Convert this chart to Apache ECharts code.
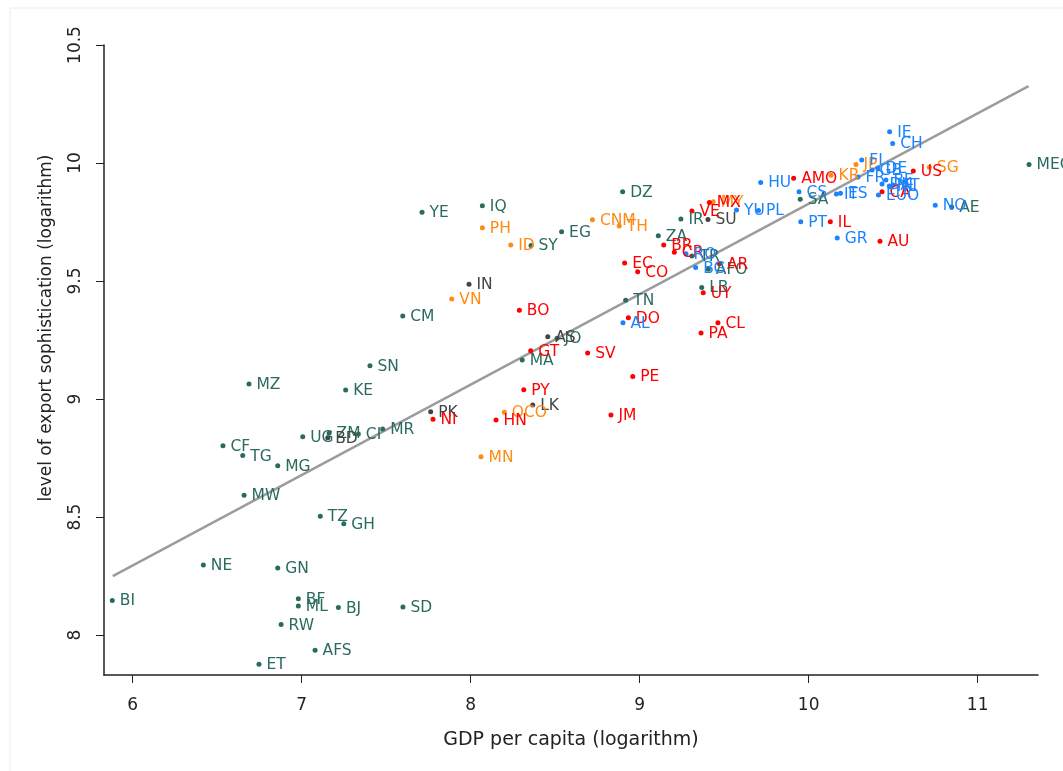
<!DOCTYPE html>
<html>
<head>
<meta charset="utf-8">
<script src="https://cdn.jsdelivr.net/npm/echarts@6/dist/echarts.min.js"></script>
<style>
  body { margin: 0; background: #fff; }
  #graph { width: 1063px; height: 771px; }
</style>
</head>
<body>
<div id="graph"></div>
<script>
// [gdp per capita (log), export sophistication (log), code]
var africaMena = [
  [5.879, 8.147, 'BI'], [6.418, 8.297, 'NE'], [6.534, 8.802, 'CF'], [6.651, 8.761, 'TG'],
  [6.659, 8.593, 'MW'], [6.688, 9.064, 'MZ'], [6.747, 7.877, 'ET'], [6.858, 8.717, 'MG'],
  [6.858, 8.284, 'GN'], [6.878, 8.045, 'RW'], [6.980, 8.154, 'BF'], [6.980, 8.123, 'ML'],
  [7.006, 8.840, 'UG'], [7.079, 7.936, 'AFS'], [7.110, 8.504, 'TZ'], [7.162, 8.855, 'ZM'],
  [7.217, 8.117, 'BJ'], [7.249, 8.472, 'GH'], [7.260, 9.038, 'KE'], [7.335, 8.852, 'CI'],
  [7.404, 9.141, 'SN'], [7.479, 8.873, 'MR'], [7.599, 8.119, 'SD'], [7.598, 9.352, 'CM'],
  [7.712, 9.791, 'YE'], [8.069, 9.819, 'IQ'], [8.305, 9.165, 'MA'], [8.357, 9.651, 'SY'],
  [8.511, 9.258, 'JO'], [8.538, 9.709, 'EG'], [8.899, 9.878, 'DZ'], [8.917, 9.419, 'TN'],
  [9.110, 9.692, 'ZA'], [9.244, 9.763, 'IR'], [9.309, 9.606, 'TR'], [9.367, 9.473, 'LB'],
  [9.406, 9.550, 'AFO'], [9.950, 9.847, 'SA'], [10.846, 9.814, 'AE'], [11.304, 9.994, 'MEC']
]
var southAsia = [
  [7.154, 8.836, 'BD'], [7.763, 8.946, 'PK'], [7.990, 9.486, 'IN'], [8.367, 8.975, 'LK'],
  [8.456, 9.264, 'AS'], [9.404, 9.761, 'SU']
]
var eastAsia = [
  [7.888, 9.424, 'VN'], [8.061, 8.756, 'MN'], [8.069, 9.726, 'PH'], [8.199, 8.944, 'OCO'],
  [8.237, 9.653, 'ID'], [8.720, 9.760, 'CNM'], [8.879, 9.733, 'TH'], [9.435, 9.836, 'MY'],
  [10.132, 9.948, 'KR'], [10.280, 9.994, 'JP'], [10.714, 9.982, 'SG']
]
var americas = [
  [7.777, 8.914, 'NI'], [8.150, 8.911, 'HN'], [8.288, 9.376, 'BO'], [8.314, 9.039, 'PY'],
  [8.355, 9.205, 'GT'], [8.692, 9.195, 'SV'], [8.830, 8.933, 'JM'], [8.911, 9.576, 'EC'],
  [8.933, 9.344, 'DO'], [8.959, 9.096, 'PE'], [8.988, 9.539, 'CO'], [9.142, 9.653, 'BR'],
  [9.205, 9.622, 'CR'], [9.309, 9.797, 'VE'], [9.363, 9.280, 'PA'], [9.376, 9.450, 'UY'],
  [9.412, 9.833, 'MX'], [9.463, 9.323, 'CL'], [9.472, 9.573, 'AR'], [9.911, 9.936, 'AMO'],
  [10.128, 9.751, 'IL'], [10.422, 9.669, 'AU'], [10.434, 9.878, 'CA'], [10.619, 9.966, 'US']
]
var europe = [
  [8.901, 9.323, 'AL'], [9.274, 9.616, 'RO'], [9.331, 9.557, 'BG'], [9.573, 9.801, 'YU'],
  [9.703, 9.799, 'PL'], [9.716, 9.918, 'HU'], [9.943, 9.878, 'CS'], [9.953, 9.751, 'PT'],
  [10.164, 9.869, 'IT'], [10.188, 9.872, 'ES'], [10.169, 9.682, 'GR'], [10.292, 9.941, 'FR'],
  [10.314, 10.013, 'FI'], [10.375, 9.970, 'GB'], [10.410, 9.979, 'DE'], [10.413, 9.864, 'EUO'],
  [10.434, 9.911, 'DK'], [10.457, 9.928, 'BE'], [10.477, 9.903, 'NL'], [10.499, 9.907, 'AT'],
  [10.479, 10.133, 'IE'], [10.497, 10.083, 'CH'], [10.749, 9.821, 'NO']
]
var fitX = [5.882, 11.301]
var fitY = [8.250, 10.326]
var xTicks = [6, 7, 8, 9, 10, 11]
var yTicks = [8, 8.5, 9, 9.5, 10, 10.5]

var font = 'DejaVu Sans'
var groups = [
  {data: africaMena, color: '#2b6b5f'},
  {data: southAsia, color: '#444444'},
  {data: eastAsia, color: '#ff8a14'},
  {data: americas, color: '#ff0000'},
  {data: europe, color: '#1a84ff'}
]

function makeSeries() {
  var series = [{
    type: 'line',
    data: fitX.map(function (x, i) { return [x, fitY[i]] }),
    symbol: 'none',
    lineStyle: {color: '#9c9c9c', width: 2.5},
    silent: true,
    z: 1
  }]
  groups.forEach(function (g) {
    series.push({
      type: 'scatter',
      data: g.data,
      symbolSize: 5,
      itemStyle: {color: g.color, opacity: 1},
      label: {
        show: true,
        position: 'right',
        distance: 5,
        offset: [0, 1],
        formatter: function (p) { return p.value[2] },
        color: g.color,
        fontFamily: font,
        fontSize: 15.5
      },
      z: 2
    })
  })
  return series
}

var chart = echarts.init(document.getElementById('graph'))
var option = {
  animation: false,
  backgroundColor: '#fff',
  grid: {left: 104, right: 25, top: 45, bottom: 96},
  xAxis: {
    type: 'value',
    min: 5.830,
    max: 11.357,
    name: 'GDP per capita (logarithm)',
    nameLocation: 'middle',
    nameGap: 56,
    nameTextStyle: {fontFamily: font, fontSize: 19, color: '#222'},
    splitLine: {show: false},
    axisLine: {lineStyle: {color: '#222', width: 1.5}},
    axisTick: {customValues: xTicks, length: 8, lineStyle: {color: '#222'}},
    axisLabel: {customValues: xTicks, margin: 22, fontFamily: font, fontSize: 17, color: '#222'}
  },
  yAxis: {
    type: 'value',
    min: 7.831,
    max: 10.5,
    splitLine: {show: false},
    axisLine: {show: true, lineStyle: {color: '#222', width: 1.5}},
    axisTick: {show: true, customValues: yTicks, length: 8, lineStyle: {color: '#222'}},
    axisLabel: {customValues: yTicks, rotate: 90, margin: 20, fontFamily: font, fontSize: 17, color: '#222'}
  },
  graphic: [
    {
      type: 'rect',
      shape: {x: 10, y: 8, width: 1060, height: 800},
      style: {fill: 'none', stroke: '#e6eeee', lineWidth: 1},
      silent: true
    },
    {
      type: 'text',
      x: 47,
      y: 328,
      rotation: Math.PI / 2,
      style: {
        text: 'level of export sophistication (logarithm)',
        fontFamily: font,
        fontSize: 17,
        fill: '#222',
        align: 'center',
        verticalAlign: 'middle'
      }
    }
  ],
  series: makeSeries()
}
chart.setOption(option)
</script>
</body>
</html>
